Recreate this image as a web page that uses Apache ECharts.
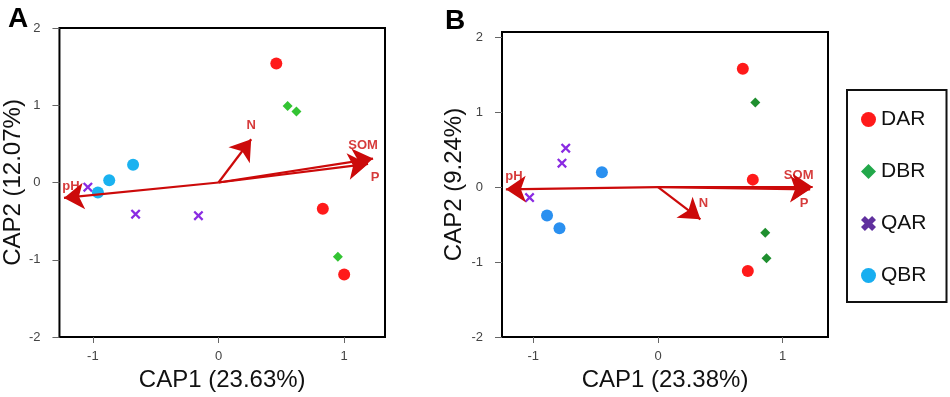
<!DOCTYPE html>
<html>
<head>
<meta charset="utf-8">
<script src="https://cdn.jsdelivr.net/npm/echarts@6/dist/echarts.min.js"></script>
<style>
  html, body { margin: 0; padding: 0; background: #fff; }
  #chart { width: 950px; height: 397px; }
</style>
</head>
<body>
<div id="chart"></div>
<script>
// groups shown in the legend
const groups = ['DAR', 'DBR', 'QAR', 'QBR'];

// panel A points [CAP1, CAP2]
const darA = [[0.46, 1.54], [0.83, -0.34], [1.00, -1.19]];
const dbrA = [[0.55, 0.99], [0.62, 0.92], [0.95, -0.96]];
const qarA = [[-1.04, -0.06], [-0.66, -0.41], [-0.16, -0.43]];
const qbrA = [[-0.68, 0.23], [-0.87, 0.03], [-0.96, -0.13]];

// panel B points [CAP1, CAP2]
const darB = [[0.68, 1.58], [0.76, 0.10], [0.72, -1.12]];
const dbrB = [[0.78, 1.13], [0.86, -0.61], [0.87, -0.95]];
const qarB = [[-0.74, 0.52], [-0.77, 0.32], [-1.03, -0.14]];
const qbrB = [[-0.45, 0.20], [-0.89, -0.38], [-0.79, -0.55]];

// environmental vectors (tips, from origin)
const arrowNames = ['pH', 'N', 'SOM', 'P'];
const arrowsA = [[-1.23, -0.20], [0.26, 0.56], [1.23, 0.31], [1.19, 0.24]];
const arrowsB = [[-1.22, -0.03], [0.34, -0.43], [1.24, 0.00], [1.22, -0.03]];

const xTicks = [-1, 0, 1];
const yTicks = [-2, -1, 0, 1, 2];
const axisNamesA = ['CAP1 (23.63%)', 'CAP2 (12.07%)'];
const axisNamesB = ['CAP1 (23.38%)', 'CAP2 (9.24%)'];

const arrowColor = '#cc0a0a';
const xThin = 'path://M0,1.6 L1.6,0 L5,3.4 L8.4,0 L10,1.6 L6.6,5 L10,8.4 L8.4,10 L5,6.6 L1.6,10 L0,8.4 L3.4,5 Z';
const xBold = 'path://M0,2.6 L2.6,0 L5,2.4 L7.4,0 L10,2.6 L7.6,5 L10,7.4 L7.4,10 L5,7.6 L2.6,10 L0,7.4 L2.4,5 Z';

// label nudges for the vector names, px
const labelOffsetsA = [[7, -12], [0, -14], [-10, -13], [7, 13]];
const labelOffsetsB = [[8, -13], [3, -16], [-14, -12], [-6, 14]];

const chart = echarts.init(document.getElementById('chart'));

function makeAxes(idx, names, xr, yr, yGap) {
  const x = {
    type: 'value', gridIndex: idx, min: xr[0], max: xr[1],
    name: names[0], nameLocation: 'middle', nameGap: 31,
    nameTextStyle: { fontSize: 24, color: '#111', fontFamily: 'Liberation Sans' },
    axisLine: { show: false, onZero: false },
    axisTick: { show: true, customValues: xTicks, length: 6, lineStyle: { color: '#666' } },
    axisLabel: { customValues: xTicks, color: '#444', fontSize: 13, margin: 13, fontFamily: 'Liberation Sans' },
    splitLine: { show: false }
  };
  const y = {
    type: 'value', gridIndex: idx, min: yr[0], max: yr[1],
    name: names[1], nameLocation: 'middle', nameGap: yGap,
    nameTextStyle: { fontSize: 24, color: '#111', fontFamily: 'Liberation Sans' },
    axisLine: { show: false, onZero: false },
    axisTick: { show: true, customValues: yTicks, length: 7, lineStyle: { color: '#666' } },
    axisLabel: { customValues: yTicks, color: '#444', fontSize: 13, margin: 19, fontFamily: 'Liberation Sans' },
    splitLine: { show: false }
  };
  return [x, y];
}

function panelSeries(idx, pts, colors, arrows, offsets) {
  const syms = ['circle', 'diamond', xThin, 'circle'];
  const sizes = [12, 10, 10, 12];
  const out = pts.map((d, i) => ({
    name: groups[i], type: 'scatter', xAxisIndex: idx, yAxisIndex: idx,
    symbol: syms[i], symbolSize: sizes[i], z: 3,
    itemStyle: { color: colors[i], opacity: 1 }, data: d
  }));
  out.push({
    type: 'lines', coordinateSystem: 'cartesian2d', xAxisIndex: idx, yAxisIndex: idx,
    symbol: ['none', 'arrow'], symbolSize: [0, 20], z: 4,
    lineStyle: { color: arrowColor, width: 2.2, opacity: 1 },
    data: arrows.map(a => ({ coords: [[0, 0], a] }))
  });
  out.push({
    type: 'scatter', xAxisIndex: idx, yAxisIndex: idx, symbolSize: 1, z: 5,
    itemStyle: { color: 'rgba(0,0,0,0)' }, silent: true,
    data: arrows.map((a, i) => ({
      name: arrowNames[i], value: a,
      label: { show: true, position: 'inside', offset: offsets[i], formatter: '{b}',
        color: arrowColor, fontWeight: 'bold', fontSize: 13, fontFamily: 'Liberation Sans' }
    }))
  });
  return out;
}

const axA = makeAxes(0, axisNamesA, [-1.266, 1.325], [-2, 2], 32);
const axB = makeAxes(1, axisNamesB, [-1.251, 1.363], [-2, 2.07], 36);

const legendColors = ['#ff1a1a', '#22a84a', '#60309e', '#18aef0'];
const legendIcons = ['circle', 'diamond', xBold, 'circle'];

chart.setOption({
  animation: false,
  title: [
    { text: 'A', left: 3, top: 0, textStyle: { fontSize: 28, fontWeight: 'bold', color: '#000', fontFamily: 'Liberation Sans' } },
    { text: 'B', left: 440, top: 2, textStyle: { fontSize: 28, fontWeight: 'bold', color: '#000', fontFamily: 'Liberation Sans' } }
  ],
  grid: [
    { left: 59, top: 28, width: 326, height: 311, show: true, borderColor: '#000', borderWidth: 2 },
    { left: 502, top: 32, width: 326, height: 310, show: true, borderColor: '#000', borderWidth: 2 }
  ],
  xAxis: [axA[0], axB[0]],
  yAxis: [axA[1], axB[1]],
  legend: {
    orient: 'vertical', left: 847, top: 90,
    padding: [19, 20, 16, 14], itemGap: 31,
    itemWidth: 15, itemHeight: 15,
    borderColor: '#111', borderWidth: 2,
    textStyle: { fontSize: 21, color: '#111', fontFamily: 'Liberation Sans' },
    data: groups.map((g, i) => ({ name: g, icon: legendIcons[i], itemStyle: { color: legendColors[i] } }))
  },
  series: [].concat(
    panelSeries(0, [darA, dbrA, qarA, qbrA], ['#ff1a1a', '#33c433', '#8a2be2', '#1ab2f0'], arrowsA, labelOffsetsA),
    panelSeries(1, [darB, dbrB, qarB, qbrB], ['#ff1a1a', '#1f8f2f', '#8a2be2', '#2a90f0'], arrowsB, labelOffsetsB)
  )
});
</script>
</body>
</html>
